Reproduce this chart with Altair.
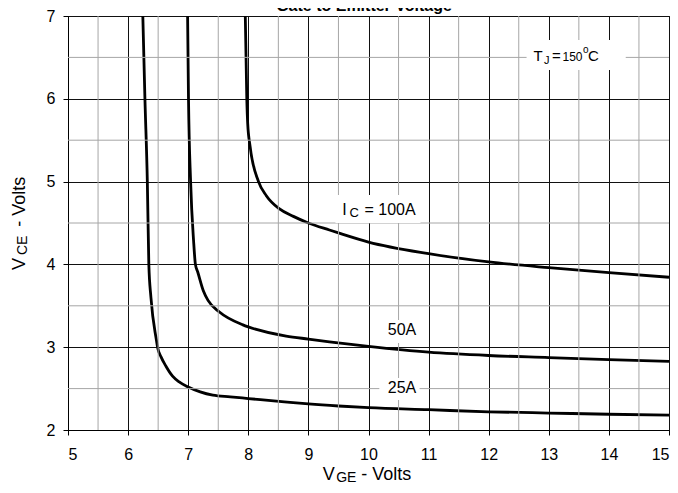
import altair as alt
import pandas as pd

# ---- axis ticks / grid ----
x_ticks = [5, 6, 7, 8, 9, 10, 11, 12, 13, 14, 15]
y_ticks = [2, 3, 4, 5, 6, 7]
minor_x = [5.5, 6.5, 7.5, 8.5, 9.5, 10.5, 11.5, 12.5, 13.5, 14.5]
minor_y = [2.5, 3.5, 4.5, 5.5, 6.5]

# ---- curves (VGE, VCE) ----
ic25_vge = [6.245, 6.28, 6.32, 6.345, 6.38, 6.47, 6.49, 6.55, 6.63, 6.74, 6.85, 7.0, 7.2, 7.41, 7.7, 8.0, 8.6, 9.0, 9.5, 10.0, 11.0, 12.0, 13.0, 14.0, 15.0]
ic25_vce = [7.0, 6.0, 5.0, 4.0, 3.6, 3.09, 3.0, 2.88, 2.77, 2.65, 2.58, 2.52, 2.46, 2.42, 2.40, 2.38, 2.34, 2.315, 2.29, 2.27, 2.245, 2.22, 2.205, 2.19, 2.18]

ic50_vge = [6.99, 7.005, 7.04, 7.09, 7.12, 7.16, 7.25, 7.33, 7.52, 7.91, 8.0, 8.63, 9.0, 9.35, 10.0, 11.0, 12.0, 13.0, 14.0, 15.0]
ic50_vce = [7.0, 6.0, 5.0, 4.28, 4.0, 3.905, 3.685, 3.565, 3.425, 3.27, 3.245, 3.135, 3.098, 3.065, 3.01, 2.94, 2.90, 2.875, 2.85, 2.83]

ic100_vge = [7.95, 7.975, 7.99, 8.03, 8.17, 8.30, 8.52, 8.75, 9.0, 9.35, 9.5, 10.0, 11.0, 12.0, 13.0, 14.0, 15.0]
ic100_vce = [7.0, 6.0, 5.70, 5.425, 5.0, 4.83, 4.67, 4.58, 4.50, 4.415, 4.38, 4.27, 4.13, 4.03, 3.96, 3.90, 3.845]

# ---- in-plot annotations ----
anno_text = ["T", "J", "=", "150", "o", "C", "I", "C", "= 100A", "50A", "25A"]
anno_x = [12.746, 12.920, 13.053, 13.228, 13.569, 13.652, 9.563, 9.684, 9.933, 10.321, 10.321]
anno_y = [6.460, 6.426, 6.460, 6.460, 6.557, 6.460, 4.597, 4.572, 4.597, 3.147, 2.450]
anno_fs = [15, 11, 15, 12, 10, 15, 16, 13, 16, 16, 16]

box_x1 = [12.63, 9.45, 10.18, 10.18]
box_x2 = [14.28, 10.865, 10.85, 10.85]
box_y1 = [6.348, 4.50, 3.051, 2.362]
box_y2 = [6.710, 4.838, 3.329, 2.628]

# ---- axis titles (pieces, with subscripts) ----
xt_text = ["V", "GE", "- Volts"]
xt_px = [254.8, 268.2, 293.2]
xt_py = [464, 466, 464]
xt_fs = [18, 14, 18]

yt_text = ["V", "CE", "- Volts"]
yt_px = [-43, -41, -43]
yt_py = [254, 239, 210.7]
yt_fs = [18, 14, 18]

title_text = "Gate to Emitter Voltage"

W, H = 601, 414
FONT = "Liberation Sans"

rows = []
for name, xs_, ys_ in [("25A", ic25_vge, ic25_vce), ("50A", ic50_vge, ic50_vce), ("100A", ic100_vge, ic100_vce)]:
    for i, (a, b) in enumerate(zip(xs_, ys_)):
        rows.append({"series": name, "vge": a, "vce": b, "ord": i})
curves = pd.DataFrame(rows)

anno = pd.DataFrame({"t": anno_text, "x": anno_x, "y": anno_y, "fs": anno_fs})
boxes = pd.DataFrame({"x1": box_x1, "x2": box_x2, "y1": box_y1, "y2": box_y2})
xt = pd.DataFrame({"t": xt_text, "px": xt_px, "py": xt_py, "fs": xt_fs})
yt = pd.DataFrame({"t": yt_text, "px": yt_px, "py": yt_py, "fs": yt_fs})
mx = pd.DataFrame({"v": minor_x})
my = pd.DataFrame({"v": minor_y})
ttl = pd.DataFrame({"t": [title_text]})

xsc = alt.Scale(domain=[5, 15], nice=False, zero=False)
ysc = alt.Scale(domain=[2, 7], nice=False, zero=False)

x_axis = alt.Axis(values=x_ticks, grid=True, gridColor="#111111", gridWidth=1,
                  tickColor="black", tickSize=5, domainColor="black", labelFontSize=16,
                  labelFont=FONT, labelColor="black", labelPadding=11, title=None, format="d")
y_axis = alt.Axis(values=y_ticks, grid=True, gridColor="#111111", gridWidth=1,
                  tickColor="black", tickSize=5, domainColor="black", labelFontSize=16,
                  labelFont=FONT, labelColor="black", labelPadding=8, title=None, format="d")

minor_v = alt.Chart(mx).mark_rule(color="#a6a6a6", strokeWidth=1).encode(
    x=alt.X("v:Q", scale=xsc, axis=x_axis)
)
minor_h = alt.Chart(my).mark_rule(color="#a6a6a6", strokeWidth=1).encode(
    y=alt.Y("v:Q", scale=ysc, axis=y_axis)
)

rects = alt.Chart(boxes).mark_rect(fill="white").encode(
    x=alt.X("x1:Q", scale=xsc, axis=x_axis), x2="x2:Q",
    y=alt.Y("y1:Q", scale=ysc, axis=y_axis), y2="y2:Q",
)

lines = alt.Chart(curves).mark_line(color="black", strokeWidth=2.8, interpolate="monotone").encode(
    x=alt.X("vge:Q", scale=xsc, axis=x_axis),
    y=alt.Y("vce:Q", scale=ysc, axis=y_axis),
    detail="series:N",
    order="ord:Q",
)

anno_txt = alt.Chart(anno).mark_text(align="left", baseline="alphabetic", font=FONT, color="black").encode(
    x=alt.X("x:Q", scale=xsc, axis=x_axis),
    y=alt.Y("y:Q", scale=ysc, axis=y_axis),
    text="t:N",
    size=alt.Size("fs:Q", scale=None, legend=None),
)

xtitle = alt.Chart(xt).mark_text(align="left", baseline="alphabetic", font=FONT, color="black").encode(
    x=alt.X("px:Q", scale=None, axis=None),
    y=alt.Y("py:Q", scale=None, axis=None),
    text="t:N",
    size=alt.Size("fs:Q", scale=None, legend=None),
)
ytitle = alt.Chart(yt).mark_text(align="left", baseline="alphabetic", font=FONT, color="black", angle=270).encode(
    x=alt.X("px:Q", scale=None, axis=None),
    y=alt.Y("py:Q", scale=None, axis=None),
    text="t:N",
    size=alt.Size("fs:Q", scale=None, legend=None),
)
top_title = alt.Chart(ttl).mark_text(align="center", baseline="alphabetic", font=FONT, fontWeight="bold",
                                      fontSize=16, color="black").encode(
    x=alt.value(296), y=alt.value(-5), text="t:N"
)

chart = alt.layer(lines, minor_v, minor_h, rects, anno_txt, xtitle, ytitle, top_title).properties(
    width=W, height=H,
    autosize=alt.AutoSizeParams(type="none"),
    padding={"left": 60, "top": 8, "right": 1, "bottom": 55},
    background="white",
).configure_view(stroke="black", strokeWidth=1)

chart.save("out.html", embed_options={"renderer": "svg", "actions": False})
